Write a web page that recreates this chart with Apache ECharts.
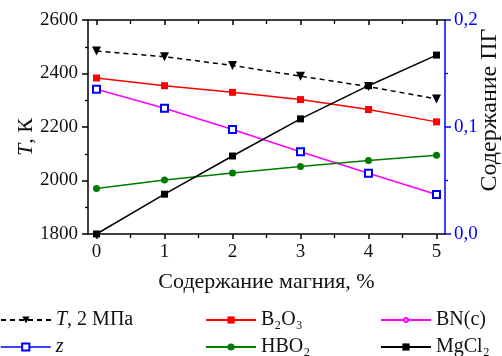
<!DOCTYPE html>
<html><head><meta charset="utf-8">
<script src="https://cdn.jsdelivr.net/npm/echarts@6/dist/echarts.min.js"></script>
<style>html,body{margin:0;padding:0;background:#fff}#c{width:502px;height:356px}</style>
</head><body><div id="c"></div>
<script>
const magnesium = [0, 1, 2, 3, 4, 5];
const xTicks = [0, 1, 2, 3, 4, 5];
const xMinorTicks = [0.5, 1.5, 2.5, 3.5, 4.5];
const tempT = [2484, 2463, 2430, 2390, 2351, 2305];
const b2o3 = [0.1458, 0.1386, 0.1324, 0.1256, 0.1163, 0.1048];
const bnc = [0.1352, 0.1175, 0.0977, 0.0769, 0.0567, 0.0369];
const zVal = [0.1352, 0.1175, 0.0977, 0.0769, 0.0567, 0.0369];
const hbo2 = [0.0425, 0.0505, 0.057, 0.063, 0.0686, 0.0735];
const mgcl2 = [0.0, 0.0372, 0.0729, 0.1076, 0.1386, 0.1672];

const FF = '"Liberation Serif","DejaVu Serif",serif';
const TXT = '#111';
const pair = a => magnesium.map((x, i) => [x, a[i]]);
const chart = echarts.init(document.getElementById('c'));
const legendRich = {
  i: {fontStyle: 'italic', fontFamily: FF, fontSize: 20, color: TXT},
  n: {fontFamily: FF, fontSize: 20, color: TXT}
};
const legFmt = name => {
  if (name === 'T, 2 МПа') return '{i|T}{n|, 2 МПа}';
  if (name === 'z') return '{i|z}';
  return '{n|' + name + '}';
};
const mkLegend = (left, top, item, h) => ({
  orient: 'horizontal', left: left, top: top, itemWidth: 50, itemHeight: h || 9, itemGap: 0,
  data: [item], formatter: legFmt, padding: 0,
  textStyle: {fontFamily: FF, fontSize: 20, color: TXT, rich: legendRich}
});
const xBase = {type: 'value', min: -0.125, max: 5.125, splitLine: {show: false}};
chart.setOption({
  animation: false,
  grid: {left: 88, right: 57, top: 20, bottom: 122, outerBoundsMode: 'none'},
  legend: [
    mkLegend(0, 310, 'T, 2 МПа'),
    mkLegend(0, 337, {name: 'z', lineStyle: {color: '#0000ff', width: 1.5, opacity: 1, type: 'solid'}}),
    mkLegend(205, 310, 'B₂O₃'),
    mkLegend(205, 337, 'HBO₂'),
    mkLegend(380, 310, 'BN(c)', 5),
    mkLegend(380, 337, 'MgCl₂')
  ],
  xAxis: [
    Object.assign({}, xBase, {
      position: 'bottom',
      name: 'Содержание магния, %', nameLocation: 'middle', nameGap: 37,
      nameTextStyle: {fontFamily: FF, fontSize: 22, color: TXT},
      axisLine: {show: true, onZero: false, lineStyle: {color: '#000', width: 1.5}},
      axisTick: {show: true, customValues: xTicks, length: 5, lineStyle: {color: '#000', width: 1.5}},
      axisLabel: {show: true, customValues: xTicks, margin: 9, fontFamily: FF, fontSize: 19, color: TXT}
    }),
    Object.assign({}, xBase, {
      position: 'bottom', axisLine: {show: false, onZero: false},
      axisTick: {show: true, customValues: xMinorTicks, length: 4, lineStyle: {color: '#000', width: 1.3}},
      axisLabel: {show: false}
    }),
    Object.assign({}, xBase, {
      position: 'top',
      axisLine: {show: true, onZero: false, lineStyle: {color: '#000', width: 1.5}},
      axisTick: {show: true, customValues: xTicks, inside: true, length: 5, lineStyle: {color: '#000', width: 1.5}},
      axisLabel: {show: false}
    }),
    Object.assign({}, xBase, {
      position: 'top', axisLine: {show: false, onZero: false},
      axisTick: {show: true, customValues: xMinorTicks, inside: true, length: 4, lineStyle: {color: '#000', width: 1.3}},
      axisLabel: {show: false}
    })
  ],
  yAxis: [
    {
      type: 'value', position: 'left', min: 1800, max: 2600, interval: 200,
      name: '{i|T}{n|, К}', nameLocation: 'middle', nameGap: 51, nameMoveOverlap: false,
      nameTextStyle: {padding: [0, 20, 0, 0], rich: {i: {fontStyle: 'italic', fontFamily: FF, fontSize: 22, color: TXT}, n: {fontFamily: FF, fontSize: 22, color: TXT}}},
      axisLine: {show: true, onZero: false, lineStyle: {color: '#000', width: 1.5}},
      axisTick: {show: true, length: 6, lineStyle: {color: '#000', width: 1.5}},
      minorTick: {show: true, splitNumber: 2, length: 3, lineStyle: {color: '#000', width: 1.3}},
      splitLine: {show: false},
      axisLabel: {show: true, margin: 10, fontFamily: FF, fontSize: 19, color: TXT, formatter: v => String(v)}
    },
    {
      type: 'value', position: 'right', min: 0, max: 0.2, interval: 0.1,
      name: 'Содержание ПГ', nameLocation: 'middle', nameGap: 33, nameRotate: 90, nameMoveOverlap: false,
      nameTextStyle: {fontFamily: FF, fontSize: 24, color: TXT, padding: [0, 0, 0, 34]},
      axisLine: {show: true, onZero: false, lineStyle: {color: '#0000ff', width: 1.5}},
      axisTick: {show: true, length: 6, lineStyle: {color: '#0000ff', width: 1.5}},
      minorTick: {show: true, splitNumber: 2, length: 3, lineStyle: {color: '#0000ff', width: 1.3}},
      splitLine: {show: false},
      axisLabel: {show: true, margin: 9, fontFamily: FF, fontSize: 19, color: '#0000ff',
        formatter: v => v.toFixed(1).replace('.', ',')}
    }
  ],
  series: [
    {name: 'T, 2 МПа', type: 'line', yAxisIndex: 0, data: pair(tempT), symbol: 'triangle', symbolRotate: 180, symbolSize: 9,
      itemStyle: {color: '#000'}, lineStyle: {color: '#000', width: 1.5, type: [5, 4]}, z: 3},
    {name: 'B₂O₃', type: 'line', yAxisIndex: 1, data: pair(b2o3), symbol: 'rect', symbolSize: 7,
      itemStyle: {color: '#ff0000'}, lineStyle: {color: '#ff0000', width: 1.5}, z: 3},
    {name: 'BN(c)', type: 'line', yAxisIndex: 1, data: pair(bnc), symbol: 'emptyCircle', symbolSize: 4,
      itemStyle: {color: '#ff00ff', borderColor: '#ff00ff'}, lineStyle: {color: '#ff00ff', width: 1.5}, z: 3},
    {name: 'z', type: 'line', yAxisIndex: 1, data: pair(zVal), symbol: 'emptyRect', symbolSize: 7,
      itemStyle: {color: '#0000ff', borderColor: '#0000ff', borderWidth: 1.3}, lineStyle: {color: '#0000ff', width: 1.5, opacity: 0}, z: 4},
    {name: 'HBO₂', type: 'line', yAxisIndex: 1, data: pair(hbo2), symbol: 'circle', symbolSize: 7,
      itemStyle: {color: '#007a00'}, lineStyle: {color: '#007a00', width: 1.5}, z: 3},
    {name: 'MgCl₂', type: 'line', yAxisIndex: 1, data: pair(mgcl2), symbol: 'rect', symbolSize: 7,
      itemStyle: {color: '#000'}, lineStyle: {color: '#000', width: 1.5}, z: 3}
  ]
});
</script></body></html>
